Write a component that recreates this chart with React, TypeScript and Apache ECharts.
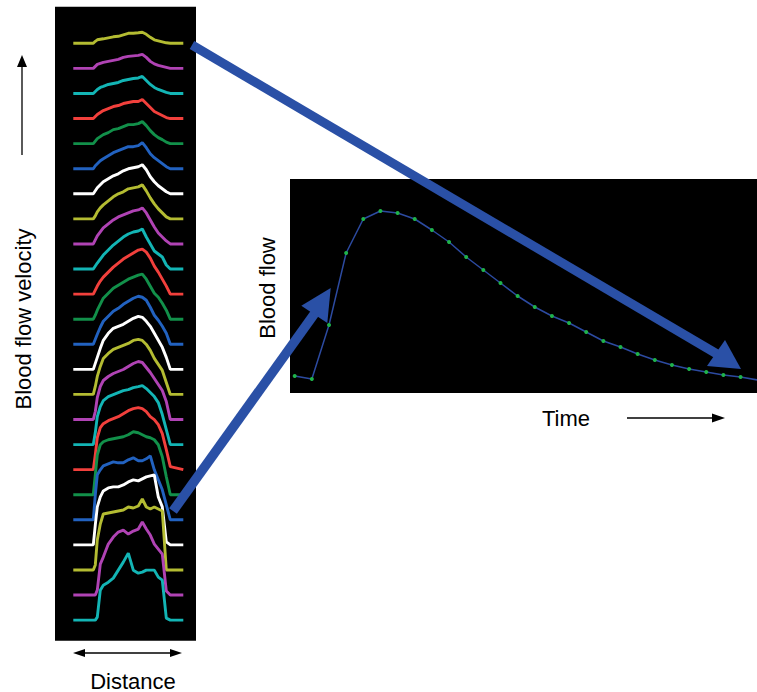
import React, { useEffect, useRef } from "react";
import * as echarts from "echarts";

// Distance positions (px offset across the vessel) shared by all velocity profiles
const distance = [0, 20, 22, 24, 27, 30, 35, 40, 45, 50, 55, 60, 65, 69, 73, 77, 81, 85, 89, 93, 97, 110];

// Velocity profiles, from top (0) to bottom (23)
const profile0 = [0, 0, 2, 3.5, 4, 4.5, 5.5, 6.5, 7, 8.5, 10, 10, 10.5, 11, 9, 6, 3.5, 2.5, 1.5, 0.5, 0, 0];
const profile1 = [0, 0, 2, 4, 5, 6, 7, 8, 9, 11, 12, 12.5, 13, 14, 11, 7, 4.5, 3, 2, 1, 0, 0];
const profile2 = [0, 0, 2, 4, 6, 7, 9, 10, 11, 13, 14, 15, 15.5, 17, 13, 9, 6, 4, 2.5, 1, 0, 0];
const profile3 = [0, 0, 2, 4, 6, 8, 10, 12, 13, 15, 16, 17, 17, 19, 15, 11, 7, 5, 3, 1, 0, 0];
const profile4 = [0, 0, 2.5, 5, 7, 9, 11, 14, 15, 17, 19, 19, 20, 22, 18, 13, 9, 6, 4, 1.5, 0, 0];
const profile5 = [0, 0, 3, 5, 8, 10, 13, 16, 18, 20, 22, 22, 23, 26, 21, 15, 11, 8, 5, 2, 0, 0];
const profile6 = [0, 0, 3, 6, 9, 12, 15, 18, 20, 23, 25, 26, 27, 29, 24, 17, 12, 8, 5, 2, 0, 0];
const profile7 = [0, 0, 3, 7, 11, 14, 18, 22, 25, 27, 30, 31, 32, 34, 28, 21, 15, 10, 6, 2, 0, 0];
const profile8 = [0, 0, 4, 8, 12, 16, 20, 24, 27, 29, 31, 33, 34, 36, 31, 24, 17, 11, 7, 3, 0, 0];
const profile9 = [0, 0, 3, 6, 10, 14, 19, 24, 28, 32, 35, 37, 38, 40, 32, 25, 18, 15, 12, 4, 0, 0];
const profile10 = [0, 0, 4, 8, 13, 17, 22, 27, 31, 35, 38, 41, 44, 45, 42, 36, 28, 22, 15, 8, 0, 0];
const profile11 = [0, 0, 4, 9, 15, 21, 26, 31, 34, 37, 40, 42, 44, 45, 40, 33, 26, 22, 16, 9, 0, 0];
const profile12 = [0, 0, 5, 10, 17, 23, 28, 33, 36, 40, 43, 46, 48, 47, 44, 37, 29, 24, 18, 11, 0, 0];
const profile13 = [0, 0, 6, 12, 21, 29, 36, 41, 43, 45, 48, 51, 53, 52, 48, 43, 36, 29, 22, 12, 0, 0];
const profile14 = [0, 0, 8, 18, 28, 36, 41, 45, 47, 49, 51, 54, 55, 54, 50, 44, 36, 30, 24, 12, 0, 0];
const profile15 = [0, 0, 8, 22, 33, 39, 43, 46, 48, 50, 53, 56, 58, 57, 52, 47, 41, 35, 29, 18, 0, 0];
const profile16 = [0, 0, 12, 28, 38, 44, 48, 50, 52, 54, 55, 57, 58, 59, 56, 52, 48, 42, 30, 15, 0, 0];
const profile17 = [0, 0, 15, 32, 42, 46, 49, 51, 53, 56, 59, 61, 62, 61, 58, 53, 50, 45, 36, 20, 3, 0];
const profile18 = [0, 0, 20, 40, 50, 53, 55, 56, 57, 58, 60, 63, 62, 60, 58, 57, 55, 50, 38, 18, 0, 0];
const profile19 = [0, 0, 25, 45, 50, 54, 56, 58, 57, 57, 60, 62, 59, 59, 61, 64, 50, 40, 30, 15, 0, 0];
const profile20 = [0, 0, 20, 38, 48, 54, 57, 58, 58, 60, 63, 65, 64, 66, 68, 69, 70, 48, 38, 3, 0, 0];
const profile21 = [0, 0, 5, 30, 46, 56, 57, 58, 59, 60, 63, 62, 64, 71, 63, 61, 63, 61, 59, 0, 0, 0];
const profile22 = [0, 0, 0, 5, 31, 38, 51, 58, 63, 65, 61, 64, 66, 73, 66, 60, 51, 46, 41, 4, 0, 0];
const profile23 = [0, 0, 0, 3, 30, 35, 38, 42, 50, 58, 67, 50, 47, 48, 50, 50, 50, 43, 40, 2, 0, 0];

const profiles = [
  profile0, profile1, profile2, profile3, profile4, profile5, profile6, profile7,
  profile8, profile9, profile10, profile11, profile12, profile13, profile14, profile15,
  profile16, profile17, profile18, profile19, profile20, profile21, profile22, profile23,
];

const profileColors = ["#b4bc32", "#b043b4", "#13b5b5", "#f2403c", "#12904a", "#2262c0", "#ffffff"];

// Blood flow over time (sample index)
const timeIndex = [0, 1, 2, 3, 4, 5, 6, 7, 8, 9, 10, 11, 12, 13, 14, 15, 16, 17, 18, 19, 20, 21, 22, 23, 24, 25, 26, 27];
const bloodFlow = [17, 14, 68, 140, 174, 182, 180, 174, 163, 151, 136, 123, 110, 97, 86, 77, 70, 61, 52, 46, 39, 33, 28, 24, 21, 18, 16, 13];

const FONT = "'Liberation Sans', Arial, Helvetica, sans-serif";
const ARROW_BLUE = "#2a50a6";

export default function App() {
  const ref = useRef<HTMLDivElement>(null);

  useEffect(() => {
    if (!ref.current) return;
    const chart = echarts.init(ref.current, undefined, { renderer: "svg" });

    const spacing = 25.08;
    const profileSeries = profiles.map((p, i) => ({
      type: "line",
      xAxisIndex: 0,
      yAxisIndex: 0,
      showSymbol: false,
      symbol: "none",
      lineStyle: { width: 2.9, color: profileColors[i % profileColors.length] },
      itemStyle: { color: profileColors[i % profileColors.length] },
      data: distance.map((d, k) => [d, 597.4 - spacing * i + p[k]]),
      z: 2,
    }));

    const flowSeries = {
      type: "line",
      xAxisIndex: 1,
      yAxisIndex: 1,
      clip: true,
      symbol: "circle",
      symbolSize: 4,
      showSymbol: true,
      lineStyle: { width: 1.5, color: "#2c4aa0" },
      itemStyle: { color: "#1fb24a", borderWidth: 0 },
      data: timeIndex.map((t, k) => ({
        value: [t, bloodFlow[k]],
        symbolSize: k === timeIndex.length - 1 ? 0 : 4,
      })),
      z: 2,
    };

    const txt = (text: string, x: number, y: number, rotation = 0) => ({
      type: "text",
      x,
      y,
      rotation,
      z: 100,
      style: {
        text,
        fill: "#000",
        font: `22px ${FONT}`,
        fontSize: 22,
        fontFamily: FONT,
        textAlign: "center",
        textVerticalAlign: "middle",
        align: "center",
        verticalAlign: "middle",
      },
    });

    const thinLine = (x1: number, y1: number, x2: number, y2: number) => ({
      type: "line",
      z: 100,
      shape: { x1, y1, x2, y2 },
      style: { stroke: "#000", lineWidth: 1.3 },
    });

    const head = (pts: number[][], fill: string) => ({
      type: "polygon",
      z: 101,
      shape: { points: pts },
      style: { fill, stroke: "none" },
    });

    const graphic = [
      // blood flow velocity axis arrow
      thinLine(22, 155, 22, 64),
      head([[22, 55], [17, 67], [27, 67]], "#000"),
      txt("Blood flow velocity", 23, 319, Math.PI / 2),
      // distance double arrow
      thinLine(82, 653, 173, 653),
      head([[73, 653], [85, 649], [85, 657]], "#000"),
      head([[182, 653], [170, 649], [170, 657]], "#000"),
      txt("Distance", 133, 681),
      // time arrow
      thinLine(627, 418, 716, 418),
      head([[725, 418], [712, 413.5], [712, 422.5]], "#000"),
      txt("Time", 566, 418),
      txt("Blood flow", 267, 288, Math.PI / 2),
      // big blue arrows
      {
        type: "line",
        z: 101,
        shape: { x1: 192, y1: 45, x2: 717, y2: 354 },
        style: { stroke: ARROW_BLUE, lineWidth: 9 },
      },
      head([[741, 369], [707, 366], [725, 340]], ARROW_BLUE),
      {
        type: "line",
        z: 101,
        shape: { x1: 173, y1: 511, x2: 315, y2: 313 },
        style: { stroke: ARROW_BLUE, lineWidth: 9.5 },
      },
      head([[330.7, 288], [301.3, 305.7], [327.3, 323]], ARROW_BLUE),
    ];

    chart.setOption({
      animation: false,
      backgroundColor: "#ffffff",
      grid: [
        {
          left: 55,
          top: 6.7,
          width: 141,
          height: 634,
          show: true,
          backgroundColor: "#000000",
          borderWidth: 0,
        },
        {
          left: 290,
          top: 179,
          width: 467,
          height: 214,
          show: true,
          backgroundColor: "#000000",
          borderWidth: 0,
        },
      ],
      xAxis: [
        { type: "value", gridIndex: 0, min: -18.3, max: 122.7, show: false },
        { type: "value", gridIndex: 1, min: -0.274, max: 26.96, show: false },
      ],
      yAxis: [
        { type: "value", gridIndex: 0, min: 0, max: 634, show: false },
        { type: "value", gridIndex: 1, min: 0, max: 214, show: false },
      ],
      series: [...profileSeries, flowSeries],
      graphic,
    });

    return () => chart.dispose();
  }, []);

  return (
    <div
      ref={ref}
      style={{ position: "fixed", left: 0, top: 0, width: 757, height: 692 }}
    />
  );
}
